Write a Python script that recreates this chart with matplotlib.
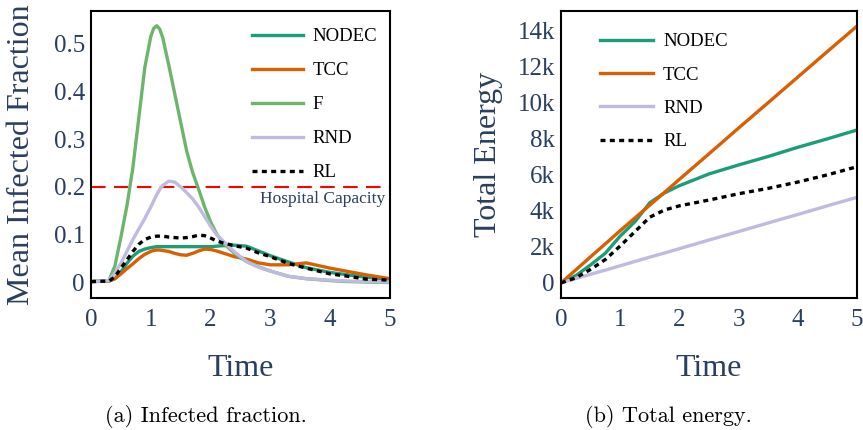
import matplotlib
matplotlib.use("Agg")
import matplotlib.pyplot as plt

# ---------------- data ----------------
t_inf = [0, 0.3, 0.4, 0.5, 0.6, 0.7, 0.8, 0.9, 1.0, 1.05, 1.1, 1.15, 1.2, 1.3, 1.4, 1.5, 1.6,
         1.7, 1.8, 1.9, 2.0, 2.1, 2.2, 2.4, 2.6, 2.8, 3.0, 3.3, 3.6, 4.0, 4.3, 4.6, 5.0]
inf_nodec = [0.002, 0.003, 0.008, 0.022, 0.040, 0.055, 0.065, 0.070, 0.073, 0.074, 0.075, 0.075,
             0.075, 0.075, 0.075, 0.075, 0.075, 0.075, 0.075, 0.075, 0.075, 0.076, 0.077, 0.078,
             0.076, 0.066, 0.056, 0.043, 0.031, 0.021, 0.016, 0.011, 0.006]
inf_tcc = [0.002, 0.003, 0.008, 0.018, 0.029, 0.039, 0.050, 0.059, 0.065, 0.067, 0.068, 0.068,
           0.067, 0.065, 0.061, 0.058, 0.057, 0.061, 0.066, 0.070, 0.069, 0.066, 0.062, 0.054,
           0.049, 0.041, 0.037, 0.037, 0.041, 0.030, 0.023, 0.016, 0.008]
inf_f = [0.002, 0.004, 0.035, 0.095, 0.160, 0.240, 0.345, 0.450, 0.515, 0.532, 0.537, 0.530,
         0.512, 0.455, 0.395, 0.335, 0.275, 0.230, 0.195, 0.158, 0.127, 0.102, 0.084, 0.061,
         0.044, 0.033, 0.024, 0.013, 0.008, 0.004, 0.002, 0.001, 0.000]
inf_rnd = [0.002, 0.004, 0.020, 0.040, 0.065, 0.090, 0.112, 0.134, 0.158, 0.171, 0.184, 0.195,
           0.203, 0.212, 0.210, 0.200, 0.188, 0.175, 0.158, 0.138, 0.118, 0.100, 0.088, 0.064,
           0.044, 0.032, 0.024, 0.013, 0.008, 0.005, 0.003, 0.002, 0.001]
inf_rl = [0.002, 0.003, 0.012, 0.030, 0.047, 0.065, 0.080, 0.090, 0.095, 0.096, 0.097, 0.097,
          0.097, 0.095, 0.094, 0.093, 0.094, 0.096, 0.099, 0.098, 0.093, 0.087, 0.083, 0.077,
          0.072, 0.062, 0.054, 0.040, 0.030, 0.018, 0.013, 0.007, 0.005]
hospital_capacity = 0.2

t_en = [0, 0.25, 0.5, 0.75, 1.0, 1.25, 1.5, 1.75, 2.0, 2.5, 3.0, 3.5, 4.0, 4.5, 5.0]
en_nodec = [0, 400, 1000, 1650, 2600, 3400, 4450, 5000, 5400, 6050, 6550, 7020, 7530, 8000, 8490]
en_tcc = [0, 720, 1450, 2170, 2900, 3610, 4320, 5030, 5750, 7170, 8600, 10010, 11430, 12850, 14260]
en_rnd = [0, 240, 480, 710, 950, 1190, 1430, 1660, 1900, 2380, 2850, 3330, 3800, 4280, 4750]
en_rl = [0, 280, 750, 1300, 2050, 2850, 3650, 4050, 4280, 4600, 4950, 5250, 5600, 6000, 6450]

x_ticks = [0, 1, 2, 3, 4, 5]
inf_yticks = [0, 0.1, 0.2, 0.3, 0.4, 0.5]
inf_yticklabels = ["0", "0.1", "0.2", "0.3", "0.4", "0.5"]
en_yticks = [0, 2000, 4000, 6000, 8000, 10000, 12000, 14000]
en_yticklabels = ["0", "2k", "4k", "6k", "8k", "10k", "12k", "14k"]

# ---------------- style ----------------
TXT = "#2a3f5f"
C_NODEC = "#1b9e77"
C_TCC = "#d95f02"
C_F = "#6db56d"
C_RND = "#bfbadf"
LW = 2.4
RL_STYLE = (0, (1.5, 1.3))
SERIF = ["Liberation Serif", "DejaVu Serif"]

W, H = 863, 430
fig = plt.figure(figsize=(W / 100, H / 100), dpi=100)

def px_axes(x0, x1, y0, y1):
    return fig.add_axes([x0 / W, 1 - y1 / H, (x1 - x0) / W, (y1 - y0) / H])

ax1 = px_axes(91, 390, 11, 298)
ax2 = px_axes(561, 857, 11, 298)

def style(ax, yticks, ylabels, ylabel, ylab_x):
    ax.set_xlim(0, 5)
    ax.set_xticks(x_ticks)
    ax.set_xticklabels([str(v) for v in x_ticks])
    ax.set_yticks(yticks)
    ax.set_yticklabels(ylabels)
    ax.tick_params(axis="both", length=0, labelsize=18, labelcolor=TXT)
    ax.tick_params(axis="x", pad=8)
    ax.tick_params(axis="y", pad=4.5)
    for lab in ax.get_xticklabels() + ax.get_yticklabels():
        lab.set_family(SERIF)
    for sp in ax.spines.values():
        sp.set_color("black")
        sp.set_linewidth(1.5)
    ax.set_xlabel("Time", fontsize=23, color=TXT, family=SERIF)
    ax.xaxis.set_label_coords(0.5, -0.244)
    ax.xaxis.label.set_va("center")
    ax.set_ylabel(ylabel, fontsize=23, color=TXT, family=SERIF)
    ax.yaxis.set_label_coords(ylab_x, 0.5)
    ax.yaxis.label.set_va("center")

# ---- left: infected fraction ----
ax1.plot(t_inf, inf_nodec, color=C_NODEC, lw=LW, label="NODEC")
ax1.plot(t_inf, inf_tcc, color=C_TCC, lw=LW, label="TCC")
ax1.plot(t_inf, inf_f, color=C_F, lw=LW, label="F")
ax1.plot(t_inf, inf_rnd, color=C_RND, lw=LW, label="RND")
ax1.plot(t_inf, inf_rl, color="black", lw=LW, ls=RL_STYLE, label="RL")
ax1.axhline(hospital_capacity, color="red", lw=1.5, ls=(0, (7, 4)), zorder=1.5)
ax1.text(4.92, 0.175, "Hospital Capacity", color=TXT, fontsize=12.5, family=SERIF,
         ha="right", va="center")
ax1.set_ylim(-0.0324, 0.568)
style(ax1, inf_yticks, inf_yticklabels, "Mean Infected Fraction", (22 - 91) / 299)

leg_kw = dict(frameon=False, handlelength=2.72, handletextpad=0.53,
              labelspacing=0.9, borderpad=0, borderaxespad=0, loc="upper left",
              prop={"family": SERIF, "size": 13.5})
ax1.legend(bbox_to_anchor=(252 / W, 1 - 28 / H), bbox_transform=fig.transFigure, **leg_kw)

# ---- right: total energy ----
ax2.plot(t_en, en_nodec, color=C_NODEC, lw=LW, label="NODEC")
ax2.plot(t_en, en_tcc, color=C_TCC, lw=LW, label="TCC")
ax2.plot(t_en, en_rnd, color=C_RND, lw=LW, label="RND")
ax2.plot(t_en, en_rl, color="black", lw=LW, ls=RL_STYLE, label="RL")
ax2.set_ylim(-840, 15100)
style(ax2, en_yticks, en_yticklabels, "Total Energy", (488 - 561) / 296)
leg_kw2 = dict(leg_kw)
leg_kw2["handlelength"] = 2.83
leg_kw2["labelspacing"] = 0.87
ax2.legend(bbox_to_anchor=(600 / W, 1 - 33 / H), bbox_transform=fig.transFigure, **leg_kw2)

# ---- captions ----
fig.text(206 / W, 1 - 417 / H, "(a) Infected fraction.", family=["cmr10", "DejaVu Serif"],
         fontsize=16, ha="center", va="center", color="black")
fig.text(668 / W, 1 - 417 / H, "(b) Total energy.", family=["cmr10", "DejaVu Serif"],
         fontsize=16, ha="center", va="center", color="black")

fig.savefig("out.png", dpi=100)
